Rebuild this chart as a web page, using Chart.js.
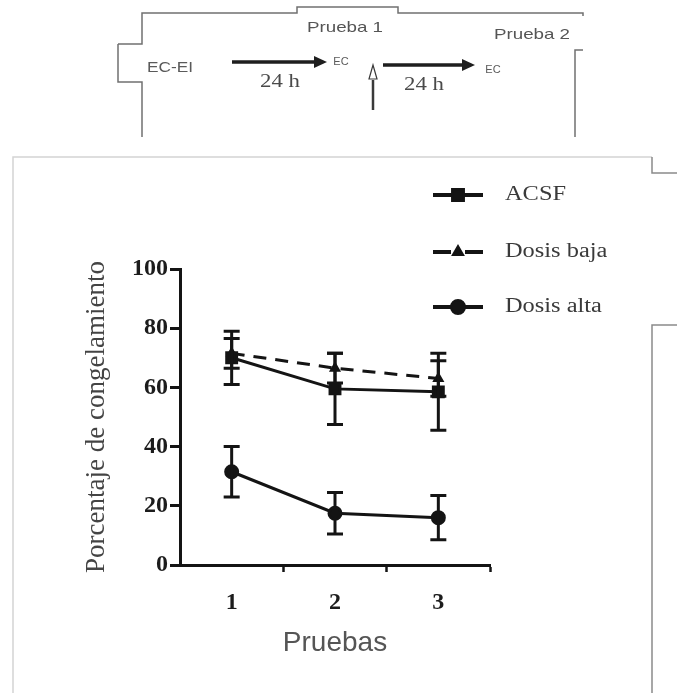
<!DOCTYPE html>
<html>
<head>
<meta charset="utf-8">
<script src="https://cdn.jsdelivr.net/npm/chart.js@4"></script>
<style>
  html, body { margin: 0; padding: 0; background: #fff; }
  canvas { display: block; }
</style>
</head>
<body>
<canvas id="c" width="677" height="693"></canvas>
<script>
// Sesiones de prueba (eje X)
const pruebas = [1, 2, 3];
const xTickValues = [1, 1.5, 2, 2.5, 3, 3.5];
const yTickStep = 20;

// % de congelamiento: media y error estándar por grupo
const acsf = [70, 59.5, 58.5];
const acsfErr = [9, 12, 13];
const dosisBaja = [71.5, 66.5, 63];
const dosisBajaErr = [5, 5, 6];
const dosisAlta = [31.5, 17.5, 16];
const dosisAltaErr = [8.5, 7, 7.5];

const ink = '#141414';

function pts(vals) { return pruebas.map((x, i) => ({ x: x, y: vals[i] })); }

const datasets = [
  { label: 'ACSF', data: pts(acsf), err: acsfErr, borderColor: ink, backgroundColor: ink,
    borderWidth: 3, pointStyle: 'rect', pointRadius: 7, borderDash: [] },
  { label: 'Dosis baja', data: pts(dosisBaja), err: dosisBajaErr, borderColor: ink, backgroundColor: ink,
    borderWidth: 3, pointStyle: 'triangle', pointRadius: 4, borderDash: [13, 9] },
  { label: 'Dosis alta', data: pts(dosisAlta), err: dosisAltaErr, borderColor: ink, backgroundColor: ink,
    borderWidth: 3, pointStyle: 'circle', pointRadius: 6, borderDash: [] }
];

// Barras de error verticales con remates
const errorBars = {
  id: 'errorBars',
  afterDatasetsDraw(chart) {
    const { ctx, scales: { x, y } } = chart;
    ctx.save();
    ctx.strokeStyle = ink;
    chart.data.datasets.forEach(ds => {
      ds.data.forEach((p, i) => {
        const px = x.getPixelForValue(p.x);
        const top = y.getPixelForValue(p.y + ds.err[i]);
        const bot = y.getPixelForValue(p.y - ds.err[i]);
        ctx.lineWidth = 3;
        ctx.beginPath();
        ctx.moveTo(px, top); ctx.lineTo(px, bot);
        ctx.moveTo(px - 8, top); ctx.lineTo(px + 8, top);
        ctx.moveTo(px - 8, bot); ctx.lineTo(px + 8, bot);
        ctx.stroke();
      });
    });
    ctx.restore();
  }
};

// Leyenda a la derecha, fuera del área de trazado
const sideLegend = {
  id: 'sideLegend',
  afterDraw(chart) {
    const ctx = chart.ctx;
    const rows = [195, 252, 307];
    chart.data.datasets.forEach((ds, i) => {
      const yy = rows[i];
      ctx.save();
      ctx.strokeStyle = ds.borderColor;
      ctx.lineWidth = 4;
      ctx.setLineDash(ds.borderDash.length ? [18, 14] : []);
      ctx.beginPath();
      ctx.moveTo(433, yy); ctx.lineTo(483, yy);
      ctx.stroke();
      ctx.setLineDash([]);
      Chart.helpers.drawPoint(ctx, {
        pointStyle: ds.pointStyle, radius: ds.pointRadius, rotation: 0, borderWidth: 1
      }, 458, yy);
      ctx.fillStyle = ds.backgroundColor;
      ctx.fill();
      ctx.restore();

      ctx.save();
      ctx.fillStyle = '#3a3a3a';
      ctx.font = '20px "Liberation Serif", "DejaVu Serif", serif';
      ctx.textBaseline = 'middle';
      ctx.translate(505, yy);
      ctx.scale(1.22, 1);
      ctx.fillText(ds.label, 0, 0);
      ctx.restore();
    });
  }
};

// Esquema del protocolo y marco del panel
const protocolo = {
  id: 'protocolo',
  beforeDraw(chart) {
    const ctx = chart.ctx;
    ctx.save();
    ctx.fillStyle = '#fff';
    ctx.fillRect(0, 0, chart.width, chart.height);

    // contorno del esquema
    ctx.strokeStyle = '#707070';
    ctx.lineWidth = 1.5;
    ctx.beginPath();
    ctx.moveTo(118, 44); ctx.lineTo(142, 44); ctx.lineTo(142, 13);
    ctx.lineTo(297, 13); ctx.lineTo(297, 7); ctx.lineTo(398, 7); ctx.lineTo(398, 13);
    ctx.lineTo(583, 13); ctx.lineTo(583, 16);
    ctx.moveTo(118, 44); ctx.lineTo(118, 82); ctx.lineTo(142, 82); ctx.lineTo(142, 137);
    ctx.moveTo(583, 50); ctx.lineTo(575, 50); ctx.lineTo(575, 137);
    ctx.stroke();

    // marco del panel
    ctx.strokeStyle = '#d4d4d4';
    ctx.beginPath();
    ctx.moveTo(13, 693); ctx.lineTo(13, 157); ctx.lineTo(652, 157);
    ctx.stroke();
    ctx.strokeStyle = '#8a8a8a';
    ctx.beginPath();
    ctx.moveTo(652, 157); ctx.lineTo(652, 173); ctx.lineTo(677, 173);
    ctx.moveTo(677, 325); ctx.lineTo(652, 325); ctx.lineTo(652, 693);
    ctx.stroke();

    function txt(s, x, y, font, color, sx, align) {
      ctx.save();
      ctx.fillStyle = color;
      ctx.font = font;
      ctx.textBaseline = 'middle';
      ctx.textAlign = align || 'center';
      ctx.translate(x, y);
      ctx.scale(sx, 1);
      ctx.fillText(s, 0, 0);
      ctx.restore();
    }
    const sans = '"Liberation Sans", Arial, sans-serif';
    const serif = '"Liberation Serif", "DejaVu Serif", serif';
    txt('Prueba 1', 345, 28, '15px ' + sans, '#555', 1.25);
    txt('Prueba 2', 532, 35, '15px ' + sans, '#555', 1.25);
    txt('EC-EI', 170, 68, '15px ' + sans, '#5a5a5a', 1.15);
    txt('EC', 341, 62, '11px ' + sans, '#5a5a5a', 1.0);
    txt('EC', 493, 70, '11px ' + sans, '#5a5a5a', 1.0);
    txt('24 h', 280, 82, '19px ' + serif, '#4a4a4a', 1.2);
    txt('24 h', 424, 85, '19px ' + serif, '#4a4a4a', 1.2);

    // flechas horizontales
    function arrow(x0, x1, y) {
      ctx.strokeStyle = '#1e1e1e';
      ctx.fillStyle = '#1e1e1e';
      ctx.lineWidth = 3.5;
      ctx.beginPath();
      ctx.moveTo(x0, y); ctx.lineTo(x1 - 10, y);
      ctx.stroke();
      ctx.beginPath();
      ctx.moveTo(x1, y); ctx.lineTo(x1 - 13, y - 6); ctx.lineTo(x1 - 13, y + 6);
      ctx.closePath();
      ctx.fill();
    }
    arrow(232, 327, 62);
    arrow(383, 475, 65);

    // flecha vertical (infusión)
    ctx.strokeStyle = '#3a3a3a';
    ctx.lineWidth = 2.5;
    ctx.beginPath();
    ctx.moveTo(373, 110); ctx.lineTo(373, 80);
    ctx.stroke();
    ctx.lineWidth = 1.2;
    ctx.beginPath();
    ctx.moveTo(373, 65); ctx.lineTo(377, 79); ctx.lineTo(369, 79); ctx.closePath();
    ctx.stroke();
    ctx.restore();
  }
};

const tickFont = { family: '"Liberation Serif", "DejaVu Serif", serif', size: 24, weight: 'bold' };

new Chart(document.getElementById('c'), {
  type: 'line',
  data: { datasets: datasets },
  options: {
    responsive: false,
    animation: false,
    events: [],
    layout: { padding: { left: 80, right: 187, top: 269, bottom: 28 } },
    plugins: { legend: { display: false }, tooltip: { enabled: false } },
    elements: { line: { tension: 0 } },
    scales: {
      x: {
        type: 'linear', min: 0.5, max: 3.5,
        afterBuildTicks: s => { s.ticks = xTickValues.map(v => ({ value: v })); },
        afterFit: s => { s.height = 100; },
        ticks: {
          autoSkip: false, maxRotation: 0, padding: 16, color: '#1c1c1c', font: tickFont,
          callback: v => (Number.isInteger(v) ? String(v) : '')
        },
        grid: {
          drawOnChartArea: false, tickLength: 7, tickWidth: 2.5,
          tickColor: c => (c.tick && !Number.isInteger(c.tick.value) ? ink : 'rgba(0,0,0,0)')
        },
        border: { color: ink, width: 3 },
        title: {
          display: true, text: 'Pruebas', color: '#555',
          font: { family: '"Liberation Sans", Arial, sans-serif', size: 28 },
          padding: { top: 0, bottom: 5 }
        }
      },
      y: {
        min: 0, max: 100,
        afterFit: s => { s.width = 100; },
        ticks: { stepSize: yTickStep, padding: 2, color: '#1c1c1c', font: tickFont },
        grid: { drawOnChartArea: false, tickLength: 10, tickWidth: 3, tickColor: ink },
        border: { color: ink, width: 3 },
        title: {
          display: true, text: 'Porcentaje de congelamiento', color: '#444',
          font: { family: '"Liberation Serif", "DejaVu Serif", serif', size: 27 },
          padding: { top: 1, bottom: 0 }
        }
      }
    }
  },
  plugins: [protocolo, errorBars, sideLegend]
});
</script>
</body>
</html>
